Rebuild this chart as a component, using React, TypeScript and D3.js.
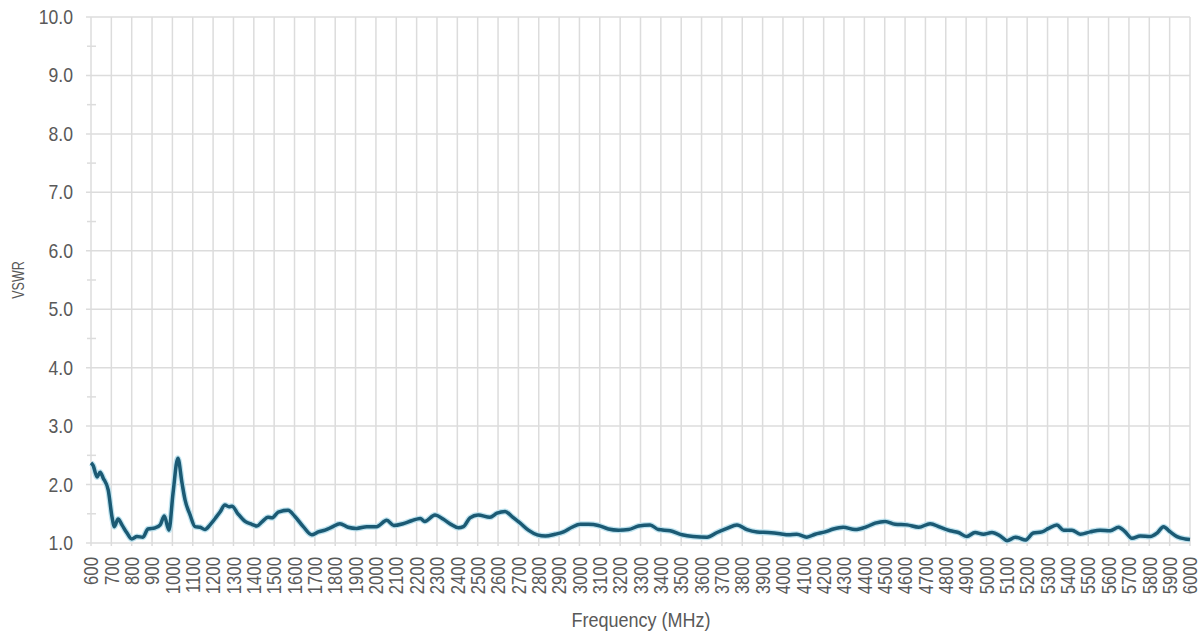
import React from "react";
import * as d3 from "d3";

const freqs = [600, 610, 630, 645, 660, 685, 703, 715, 733, 752, 777, 800, 826, 855, 880, 915, 940, 960, 983, 1003, 1027, 1047, 1062, 1087, 1111, 1136, 1160, 1185, 1210, 1234, 1258, 1278, 1293, 1322, 1357, 1390, 1415, 1440, 1470, 1490, 1520, 1568, 1603, 1643, 1685, 1717, 1750, 1783, 1823, 1863, 1905, 1955, 2003, 2053, 2088, 2133, 2175, 2218, 2240, 2290, 2330, 2373, 2405, 2430, 2462, 2502, 2560, 2595, 2635, 2669, 2709, 2749, 2793, 2833, 2880, 2922, 2963, 3004, 3045, 3093, 3142, 3192, 3241, 3290, 3347, 3388, 3446, 3504, 3558, 3627, 3676, 3725, 3774, 3823, 3873, 3927, 3986, 4027, 4068, 4117, 4158, 4207, 4248, 4296, 4354, 4412, 4453, 4502, 4551, 4610, 4667, 4723, 4772, 4822, 4862, 4903, 4944, 4985, 5027, 5068, 5101, 5142, 5165, 5190, 5230, 5273, 5305, 5346, 5379, 5420, 5461, 5510, 5558, 5608, 5649, 5682, 5715, 5756, 5804, 5838, 5870, 5903, 5936, 5976, 6000];
const vswr = [2.37, 2.33, 2.13, 2.21, 2.11, 1.9, 1.45, 1.28, 1.41, 1.31, 1.17, 1.07, 1.11, 1.1, 1.24, 1.26, 1.31, 1.46, 1.22, 1.85, 2.45, 2.03, 1.74, 1.48, 1.28, 1.27, 1.23, 1.31, 1.42, 1.53, 1.65, 1.62, 1.63, 1.5, 1.37, 1.32, 1.29, 1.36, 1.44, 1.43, 1.53, 1.56, 1.45, 1.28, 1.14, 1.19, 1.22, 1.27, 1.33, 1.27, 1.25, 1.28, 1.28, 1.39, 1.3, 1.33, 1.38, 1.42, 1.37, 1.48, 1.41, 1.31, 1.26, 1.28, 1.43, 1.48, 1.44, 1.51, 1.54, 1.45, 1.34, 1.22, 1.14, 1.12, 1.15, 1.19, 1.27, 1.32, 1.32, 1.3, 1.24, 1.22, 1.23, 1.29, 1.31, 1.23, 1.21, 1.14, 1.11, 1.1, 1.18, 1.25, 1.31, 1.23, 1.19, 1.18, 1.16, 1.14, 1.15, 1.1, 1.15, 1.19, 1.24, 1.27, 1.23, 1.28, 1.34, 1.37, 1.32, 1.31, 1.27, 1.33, 1.27, 1.21, 1.18, 1.11, 1.18, 1.15, 1.18, 1.12, 1.04, 1.1, 1.08, 1.05, 1.17, 1.19, 1.25, 1.31, 1.22, 1.22, 1.15, 1.19, 1.22, 1.21, 1.27, 1.19, 1.08, 1.12, 1.11, 1.17, 1.28, 1.19, 1.11, 1.07, 1.06];

const xTicks = d3.range(600, 6001, 100);
const yTicks = [1, 2, 3, 4, 5, 6, 7, 8, 9, 10];
const yMinor = [1.5, 2.5, 3.5, 4.5, 5.5, 6.5, 7.5, 8.5, 9.5];

const W = 1202, H = 636;
const left = 91, right = 1190, top = 17, bottom = 543;
const FONT = "'Liberation Sans', Arial, sans-serif";

export default function App() {
  const x = d3.scaleLinear().domain([600, 6000]).range([left, right]);
  const y = d3.scaleLinear().domain([1, 10]).range([bottom, top]);
  const pts = freqs.map((f, i) => [f, vswr[i]] as [number, number]);
  const line = d3.line<[number, number]>().x(d => x(d[0])).y(d => y(d[1])).curve(d3.curveMonotoneX);
  const path = line(pts) || "";
  return (
    <svg width={W} height={H} style={{ position: "absolute", left: 0, top: 0, background: "#fff" }}>
      <g>
        {xTicks.map(t => (
          <line key={"vx" + t} x1={x(t)} x2={x(t)} y1={top} y2={bottom + 3} stroke="#dcdcdc" strokeWidth={1.5} />
        ))}
        {yTicks.map(t => (
          <line key={"hy" + t} x1={left - 5} x2={right} y1={y(t)} y2={y(t)} stroke="#dcdcdc" strokeWidth={1.5} />
        ))}
        {yMinor.map(t => (
          <line key={"my" + t} x1={left - 4} x2={left + 5} y1={y(t)} y2={y(t)} stroke="#dcdcdc" strokeWidth={1.5} />
        ))}
      </g>
      <path d={path} fill="none" stroke="#bfe3ef" strokeWidth={6} strokeLinejoin="round" />
      <path d={path} fill="none" stroke="#1b5a74" strokeWidth={3.5} strokeLinejoin="round" />
      <g fontFamily={FONT} fill="#595959">
        {yTicks.map(t => (
          <text key={"ly" + t} transform={`translate(73,${y(t)}) scale(0.88,1)`} dy="0.35em" textAnchor="end" fontSize={20}>{d3.format(".1f")(t)}</text>
        ))}
        {xTicks.map(t => (
          <text key={"lx" + t} transform={`translate(${x(t)},557) rotate(-90) scale(0.84,1)`} dy="0.36em" textAnchor="end" fontSize={20}>{t}</text>
        ))}
        <text transform="translate(641,627) scale(0.9,1)" textAnchor="middle" fontSize={20}>Frequency (MHz)</text>
        <text transform={`translate(24,${(top + bottom) / 2}) rotate(-90) scale(0.74,1)`} textAnchor="middle" fontSize={17}>VSWR</text>
      </g>
    </svg>
  );
}
